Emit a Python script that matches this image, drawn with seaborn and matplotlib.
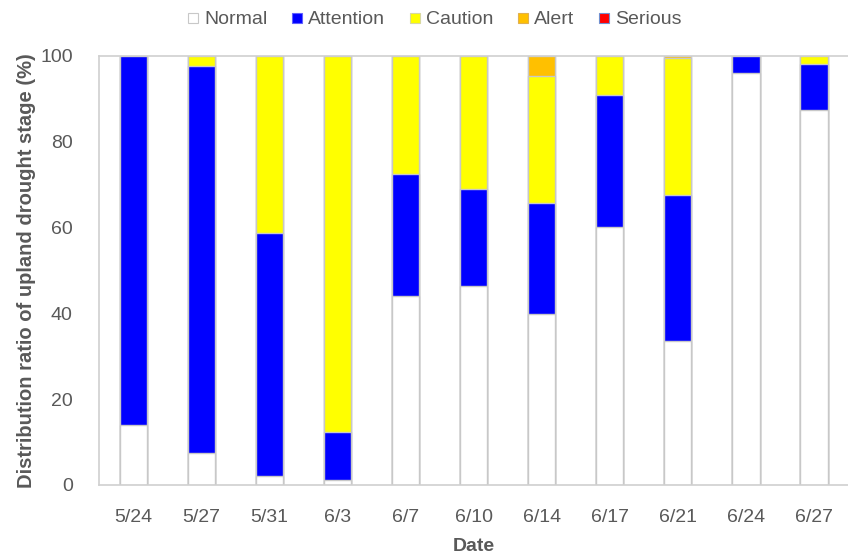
import numpy as np
import pandas as pd
import matplotlib
matplotlib.use("Agg")
import matplotlib.pyplot as plt
import seaborn as sns
from matplotlib.lines import Line2D

dates = ["5/24", "5/27", "5/31", "6/3", "6/7", "6/10", "6/14", "6/17", "6/21", "6/24", "6/27"]
normal    = [14.0, 7.5, 2.0, 1.2, 44.0, 46.4, 39.9, 60.1, 33.6, 96.0, 87.4]
attention = [86.0, 90.2, 56.7, 11.2, 28.5, 22.6, 25.8, 30.8, 34.0, 4.0, 10.7]
caution   = [0.0, 2.3, 41.3, 87.6, 27.5, 31.0, 29.5, 9.1, 31.9, 0.0, 1.9]
alert     = [0.0, 0.0, 0.0, 0.0, 0.0, 0.0, 4.8, 0.0, 0.5, 0.0, 0.0]
serious   = [0.0, 0.0, 0.0, 0.0, 0.0, 0.0, 0.0, 0.0, 0.0, 0.0, 0.0]

stages = ["Normal", "Attention", "Caution", "Alert", "Serious"]
colors = ["#FFFFFF", "#0000FF", "#FFFF00", "#FFC000", "#FF0000"]
legend_edges = ["#C8C8C8", "#6060FF", "#D8D8A0", "#E0B050", "#7090D0"]

sns.set_theme(style="white")
plt.rcParams['font.family'] = ['Liberation Sans', 'DejaVu Sans']

fig = plt.figure(figsize=(8.48, 5.58), dpi=100)
ax = fig.add_axes([0.117, 0.131, 0.883, 0.769])

series = [normal, attention, caution, alert, serious]
cum = np.cumsum(np.array(series), axis=0)
for i in range(len(stages) - 1, -1, -1):
    df = pd.DataFrame({"Date": dates, "val": cum[i]})
    sns.barplot(data=df, x="Date", y="val", color=colors[i], width=0.4,
                edgecolor="#C8C8C8", linewidth=1.0, saturation=1, ax=ax)

ax.set_xlim(-0.5, 10.5)
ax.set_ylim(0, 100)
ax.set_yticks([0, 20, 40, 60, 80, 100])
ax.tick_params(axis='both', length=0, labelsize=14, colors="#595959")
ax.tick_params(axis='x', pad=17)
ax.tick_params(axis='y', pad=19)
ax.set_xlabel("Date", fontsize=14, fontweight="bold", color="#595959", labelpad=9)
ax.set_ylabel("Distribution ratio of upland drought stage (%)", fontsize=14.5,
              fontweight="bold", color="#595959", labelpad=3)
for s in ["left", "bottom", "top"]:
    ax.spines[s].set_color("#D0D0D0")
    ax.spines[s].set_linewidth(1.2)
ax.spines["right"].set_visible(False)

handles = [Line2D([0], [0], marker='s', linestyle='none', markersize=7.5,
                  markerfacecolor=c, markeredgecolor=e, markeredgewidth=0.8)
           for c, e in zip(colors, legend_edges)]
leg = fig.legend(handles, stages, loc="upper center", bbox_to_anchor=(0.51, 1.012),
                 ncol=5, frameon=False, fontsize=14, handletextpad=0.1,
                 handlelength=1.0, columnspacing=1.0, labelcolor="#595959")

fig.savefig("out.png", dpi=100)
